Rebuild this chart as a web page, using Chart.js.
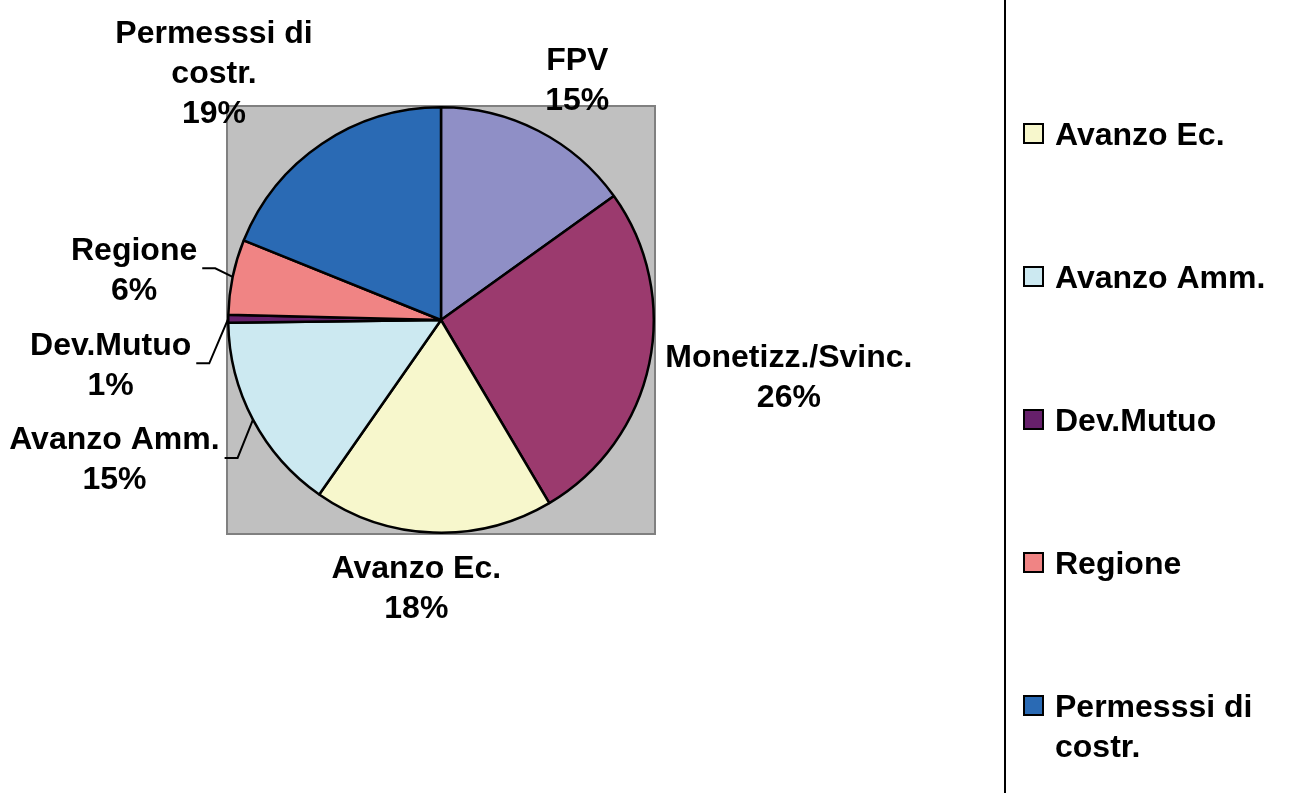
<!DOCTYPE html>
<html>
<head>
<meta charset="utf-8">
<script src="https://cdn.jsdelivr.net/npm/chart.js@4.4.1/dist/chart.umd.min.js"></script>
<style>
    html, body { margin: 0; padding: 0; background: #fff; overflow: hidden; }
</style>
</head>
<body>
<canvas id="chart" width="1304" height="793"></canvas>
<script>
// Sources of funding, share of the total (%)
const categories = ["FPV", "Monetizz./Svinc.", "Avanzo Ec.", "Avanzo Amm.", "Dev.Mutuo", "Regione", "Permesssi di costr."]
const shares = [15.1, 26.4, 18.2, 15.1, 0.6, 5.7, 18.9]
const sliceColours = ["#8F8FC6", "#9B3A6E", "#F7F7CC", "#CCE9F1", "#66206B", "#F08484", "#2A6AB4"]

// labels were dragged by hand in the original sheet
const labelNudge = [[19, -6], [7, 1], [-13, 2], [-35, 14], [-25, 45], [-25, 2], [-46, -12]]
const labelLeader = [false, false, false, true, true, true, false]

const FONT = 'bold 32px "Liberation Sans", Arial, sans-serif'
const LINE = 40
const CAP = 11.5

/**
 * Greedy word wrap
 * @param {CanvasRenderingContext2D} ctx
 * @param {string} text
 * @param {Number} maxWidth
 * @returns {string[]}
 */
function wrapText(ctx, text, maxWidth) {
    const words = text.split(" ")
    const lines = []
    let current = ""
    words.forEach(word => {
        const test = current ? current + " " + word : word
        if (current && ctx.measureText(test).width > maxWidth) {
            lines.push(current)
            current = word
        } else {
            current = test
        }
    })
    if (current) lines.push(current)
    return lines
}

const plotBackground = {
    id: "plotBackground",
    beforeDatasetsDraw(chart) {
        const { ctx, chartArea } = chart
        ctx.save()
        ctx.fillStyle = "#C0C0C0"
        ctx.fillRect(chartArea.left, chartArea.top, chartArea.right - chartArea.left, chartArea.bottom - chartArea.top)
        ctx.strokeStyle = "#808080"
        ctx.lineWidth = 2
        ctx.strokeRect(chartArea.left, chartArea.top, chartArea.right - chartArea.left, chartArea.bottom - chartArea.top)
        ctx.restore()
    }
}

const pieLabels = {
    id: "pieLabels",
    afterDatasetsDraw(chart) {
        const ctx = chart.ctx
        const meta = chart.getDatasetMeta(0)
        const total = shares.reduce((a, b) => a + b, 0)
        ctx.save()
        ctx.font = FONT
        ctx.fillStyle = "#000"
        ctx.strokeStyle = "#000"
        ctx.lineWidth = 2
        ctx.textAlign = "center"
        meta.data.forEach((arc, i) => {
            const { x, y, startAngle, endAngle, outerRadius } =
                arc.getProps(["x", "y", "startAngle", "endAngle", "outerRadius"], true)
            const mid = (startAngle + endAngle) / 2
            const dx = Math.cos(mid), dy = Math.sin(mid)
            const lines = wrapText(ctx, categories[i], 225)
                .concat(Math.round(shares[i] / total * 100) + "%")
            const w = Math.max(...lines.map(l => ctx.measureText(l).width))
            const h = lines.length * LINE
            const ax = x + dx * (outerRadius + 12)
            const ay = y + dy * (outerRadius + 12)
            const cx = ax + dx * w / 2 + labelNudge[i][0]
            const cy = ay + dy * h / 2 + labelNudge[i][1]
            lines.forEach((line, k) => {
                ctx.fillText(line, cx, cy + (k - (lines.length - 1) / 2) * LINE + CAP)
            })
            if (labelLeader[i]) {
                const px = x + dx * outerRadius
                const py = y + dy * outerRadius
                const right = cx + w / 2
                ctx.beginPath()
                ctx.moveTo(right + 5, cy)
                ctx.lineTo(right + 18, cy)
                ctx.lineTo(px, py)
                ctx.stroke()
            }
        })
        ctx.restore()
    }
}

// legend box on the right, its top entries fall outside the picture
const sideLegend = {
    id: "sideLegend",
    afterDraw(chart) {
        const ctx = chart.ctx
        const data = chart.data
        ctx.save()
        ctx.strokeStyle = "#000"
        ctx.lineWidth = 2
        ctx.beginPath()
        ctx.moveTo(1005, 0)
        ctx.lineTo(1005, chart.height)
        ctx.stroke()

        ctx.beginPath()
        ctx.rect(1006, 40, chart.width - 1006, chart.height - 40)
        ctx.clip()

        ctx.font = FONT
        ctx.textAlign = "left"
        const top = -153
        const step = 143
        data.labels.forEach((label, i) => {
            const cy = top + i * step
            const lines = wrapText(ctx, label, 240)
            ctx.fillStyle = data.datasets[0].backgroundColor[i]
            ctx.fillRect(1024, cy - 9, 19, 19)
            ctx.lineWidth = 2
            ctx.strokeRect(1024, cy - 9, 19, 19)
            ctx.fillStyle = "#000"
            lines.forEach((line, k) => ctx.fillText(line, 1055, cy + k * LINE + CAP))
        })
        ctx.restore()
    }
}

function main() {
    const ctx = document.getElementById("chart")
    new Chart(ctx, {
        type: "pie",
        data: {
            labels: categories,
            datasets: [{
                data: shares,
                backgroundColor: sliceColours,
                borderColor: "#000",
                borderWidth: 2.5
            }]
        },
        options: {
            responsive: false,
            animation: false,
            layout: {
                padding: { left: 227, top: 106, right: 649, bottom: 259 }
            },
            plugins: {
                legend: { display: false },
                tooltip: { enabled: false }
            }
        },
        plugins: [plotBackground, pieLabels, sideLegend]
    })
}

window.onload = main
</script>
</body>
</html>
